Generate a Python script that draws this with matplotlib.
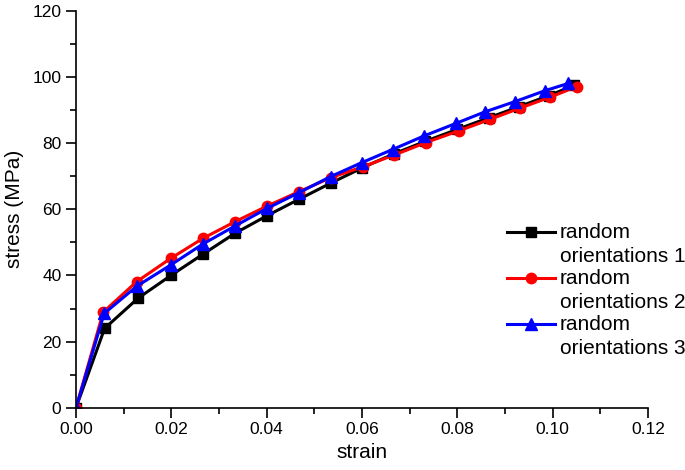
import matplotlib
matplotlib.use("Agg")
import numpy as np
import matplotlib.pyplot as plt
from matplotlib.ticker import MultipleLocator

plt.rcParams['font.family'] = ['Liberation Sans', 'DejaVu Sans']

# strain / stress curves
strain_1 = [0, 0.0060, 0.0130, 0.0200, 0.0267, 0.0334, 0.0401, 0.0467, 0.0534,
            0.0601, 0.0667, 0.0733, 0.0800, 0.0866, 0.0930, 0.0992, 0.1045]
stress_1 = [0, 24.0, 33.1, 40.1, 46.5, 52.8, 58.1, 63.0, 67.9,
            72.6, 76.8, 80.6, 84.2, 87.7, 91.1, 94.4, 97.5]

strain_2 = [0, 0.0057, 0.0127, 0.0199, 0.0266, 0.0334, 0.0401, 0.0467, 0.0535,
            0.0602, 0.0667, 0.0734, 0.0804, 0.0868, 0.0931, 0.0994, 0.1050]
stress_2 = [0, 28.9, 38.1, 45.2, 51.2, 56.3, 61.0, 65.3, 69.6,
            72.9, 76.4, 80.2, 83.8, 87.2, 90.6, 93.9, 97.1]

strain_3 = [0, 0.0059, 0.0128, 0.0199, 0.0266, 0.0334, 0.0401, 0.0467, 0.0534,
            0.0599, 0.0664, 0.0730, 0.0797, 0.0858, 0.0921, 0.0984, 0.1033]
stress_3 = [0, 28.5, 36.8, 43.2, 49.5, 55.0, 60.3, 65.0, 69.9,
            74.1, 78.1, 82.2, 86.0, 89.5, 92.6, 95.9, 98.1]

labels = ['random\norientations 1', 'random\norientations 2', 'random\norientations 3']

fig = plt.figure(figsize=(6.85, 4.70), dpi=100)
ax = fig.add_axes([0.111, 0.1326, 0.835, 0.844])

ax.plot(strain_1, stress_1, color='black', lw=2.2, marker='s', ms=6.5, label=labels[0])
ax.plot(strain_2, stress_2, color='red', lw=2.2, marker='o', ms=7.5, label=labels[1])
ax.plot(strain_3, stress_3, color='blue', lw=2.2, marker='^', ms=8, label=labels[2])

ax.set_xlim(0, 0.12)
ax.set_ylim(0, 120)
ax.xaxis.set_major_locator(MultipleLocator(0.02))
ax.xaxis.set_minor_locator(MultipleLocator(0.01))
ax.yaxis.set_major_locator(MultipleLocator(20))
ax.yaxis.set_minor_locator(MultipleLocator(10))
ax.xaxis.set_major_formatter(lambda v, p: f"{v:.2f}")
ax.yaxis.set_major_formatter(lambda v, p: f"{v:.0f}")

for s in ['top', 'right']:
    ax.spines[s].set_visible(False)
for s in ['left', 'bottom']:
    ax.spines[s].set_linewidth(1.2)
ax.tick_params(which='major', direction='out', length=7, width=1.2, labelsize=12.5)
ax.tick_params(which='minor', direction='out', length=4, width=1.2)

ax.set_xlabel('strain', fontsize=15, labelpad=4)
ax.set_ylabel('stress (MPa)', fontsize=15, labelpad=6)

leg = ax.legend(loc='center left', bbox_to_anchor=(0.753, 0.295), frameon=False,
                fontsize=15, handlelength=2.3, handletextpad=0.25,
                labelspacing=0.17, borderpad=0, borderaxespad=0)
for t in leg.get_texts():
    t.set_linespacing(1.3)
# put each handle level with the first line of its label
for h in leg.legend_handles:
    h.set_ydata(np.asarray(h.get_ydata()) + 9.0)

fig.savefig('out.png', dpi=100)
